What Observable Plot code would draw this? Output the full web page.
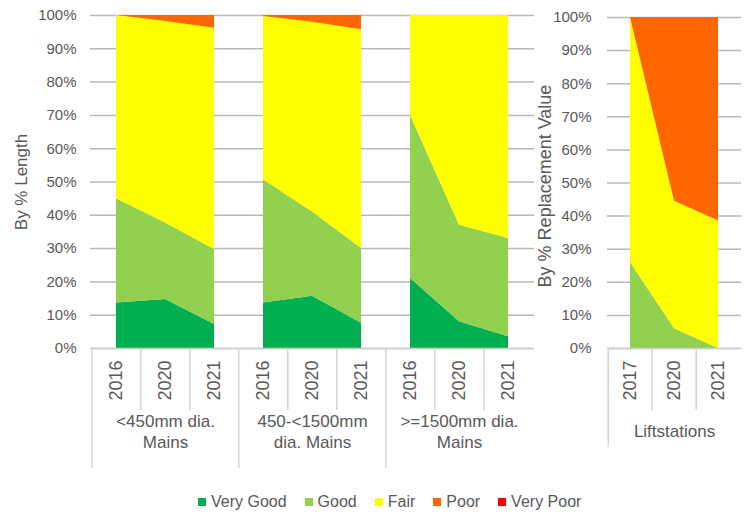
<!DOCTYPE html>
<html><head><meta charset="utf-8">
<script src="https://cdn.jsdelivr.net/npm/d3@7"></script>
<script src="https://cdn.jsdelivr.net/npm/@observablehq/plot@0.6"></script>
<style>
body{margin:0;background:#fff;}
#chart{position:relative;width:747px;height:514px;background:#fff;font-family:"Liberation Sans",Arial,sans-serif;color:#595959;overflow:hidden;}
#left{position:absolute;left:0;top:0;}
#right{position:absolute;left:530px;top:0;}
#legend{position:absolute;left:198px;top:492px;display:flex;gap:18px;font-size:16px;white-space:nowrap;line-height:20px;}
.item{display:flex;align-items:center;}
.sw{width:8px;height:8px;margin-right:5px;}
</style></head><body>
<div id="chart"><div id="left"></div><div id="right"></div><div id="legend"></div></div>
<script>
// ---- data ----
const conditions = ["Very Good", "Good", "Fair", "Poor", "Very Poor"];
const conditionColors = ["#00b050", "#92d050", "#ffff00", "#ff6600", "#ff0000"];

const mainsGroups = ["<450mm dia. Mains", "450-<1500mm dia. Mains", ">=1500mm dia. Mains"];
const mainsGroupLabels = ["<450mm dia.\nMains", "450-<1500mm\ndia. Mains", ">=1500mm dia.\nMains"];
const mainsYears = ["2016", "2020", "2021"];
// values in % (order: <450 2016,2020,2021 | 450-<1500 2016,2020,2021 | >=1500 2016,2020,2021)
const mainsVeryGood = [13.7, 14.7, 7.2, 13.7, 15.7, 7.6, 21, 8, 3.5];
const mainsGood     = [31.3, 23, 22.5, 37, 25.3, 22.4, 49, 29, 29.5];
const mainsFair     = [55, 60.5, 66.5, 49, 57, 65.7, 30, 63, 67];
const mainsPoor     = [0, 1.8, 3.8, 0.3, 2, 4.3, 0, 0, 0];
const mainsVeryPoor = [0, 0, 0, 0, 0, 0, 0, 0, 0];

const liftGroups = ["Liftstations"];
const liftGroupLabels = ["Liftstations"];
const liftYears = ["2017", "2020", "2021"];
const liftVeryGood = [0, 0, 0];
const liftGood     = [26, 6, 0];
const liftFair     = [74, 38.5, 38.5];
const liftPoor     = [0, 55.5, 61.5];
const liftVeryPoor = [0, 0, 0];

const yTicks = [0, 10, 20, 30, 40, 50, 60, 70, 80, 90, 100];
const leftTitle = "By % Length";
const rightTitle = "By % Replacement Value";

// ---- build rows ----
function buildRows(groups, years, series) {
  const rows = [];
  groups.forEach((g, gi) => conditions.forEach((c, ci) => years.forEach((y, yi) => {
    rows.push({group: g, year: y, key: g + "|" + y, cond: c, value: series[ci][gi * years.length + yi]});
  })));
  return rows;
}
const mainsRows = buildRows(mainsGroups, mainsYears, [mainsVeryGood, mainsGood, mainsFair, mainsPoor, mainsVeryPoor]);
const liftRows = buildRows(liftGroups, liftYears, [liftVeryGood, liftGood, liftFair, liftPoor, liftVeryPoor]);

const H = 475, MB = 127;
const FONT = '"Liberation Sans", Arial, sans-serif';
const GRID = "#d0d0d0";
const GRIDLINE = "#b8b8b8";

function panelChart(o) {
  const keys = o.groups.flatMap(g => o.years.map(y => g + "|" + y));
  const step = (o.width - o.marginLeft - o.marginRight) / keys.length;
  const plotH = H - o.marginTop - MB;
  const firstKeys = o.groups.map(g => g + "|" + o.years[0]);
  const innerKeys = keys.filter(k => !firstKeys.includes(k));
  const midKeys = o.groups.map(g => g + "|" + o.years[1]);
  return Plot.plot({
    width: o.width, height: H,
    marginLeft: o.marginLeft, marginRight: o.marginRight, marginTop: o.marginTop, marginBottom: MB,
    style: {fontFamily: FONT, color: "#595959", background: "transparent", overflow: "visible"},
    x: {type: "point", domain: keys, padding: 0.5, axis: null},
    y: {domain: [0, 100], axis: null},
    color: {domain: conditions, range: conditionColors},
    marks: [
      Plot.tickY(yTicks, {y: d => d, x: null, stroke: GRIDLINE, strokeWidth: 1.5}),
      Plot.areaY(o.rows, {x: "key", y: "value", z: d => d.group + "|" + d.cond, fill: "cond"}),
      Plot.tickY([0], {y: d => d, x: null, stroke: GRID, strokeWidth: 1.6}),
      Plot.ruleX(innerKeys, {x: d => d, dx: -step / 2, insetTop: plotH, insetBottom: -62, stroke: GRID, strokeWidth: 1.3}),
      Plot.ruleX(firstKeys, {x: d => d, dx: -step / 2, insetTop: plotH, insetBottom: -o.groupSepDrop, stroke: GRID, strokeWidth: 1.3}),
      Plot.axisY(yTicks, {tickFormat: d => d + "%", tickSize: 0, tickPadding: o.tickPadding, fontSize: 15, color: "#595959", label: null}),
      Plot.axisX({tickFormat: k => k.split("|")[1], tickRotate: -90, tickSize: 0, tickPadding: 12, fontSize: 18, color: "#595959", label: null}),
      Plot.text(midKeys, {x: d => d, text: (d, i) => o.groupLabels[i], frameAnchor: "bottom", dy: o.groupLabelDy, fontSize: 17, lineHeight: 1.2, fill: "#595959"}),
      Plot.text([o.title], {text: d => d, frameAnchor: "left", textAnchor: "middle", dx: o.titleDx, dy: o.titleDy, rotate: -90, fontSize: o.titleSize, fill: "#595959"})
    ]
  });
}

document.getElementById("left").append(panelChart({
  rows: mainsRows, groups: mainsGroups, groupLabels: mainsGroupLabels, years: mainsYears,
  width: 545, marginLeft: 90, marginRight: 11, marginTop: 15,
  title: leftTitle, titleDx: -69, titleDy: 0, titleSize: 17, tickPadding: 14, groupLabelDy: 99, groupSepDrop: 120
}));
document.getElementById("right").append(panelChart({
  rows: liftRows, groups: liftGroups, groupLabels: liftGroupLabels, years: liftYears,
  width: 213, marginLeft: 77, marginRight: 2, marginTop: 17,
  title: rightTitle, titleDx: -62, titleDy: 3, titleSize: 18, tickPadding: 16, groupLabelDy: 88, groupSepDrop: 99
}));

// legend
const legend = d3.select("#legend");
conditions.forEach((c, i) => {
  const item = legend.append("div").attr("class", "item");
  item.append("div").attr("class", "sw").style("background", conditionColors[i]);
  item.append("span").text(c);
});
</script>
</body></html>
